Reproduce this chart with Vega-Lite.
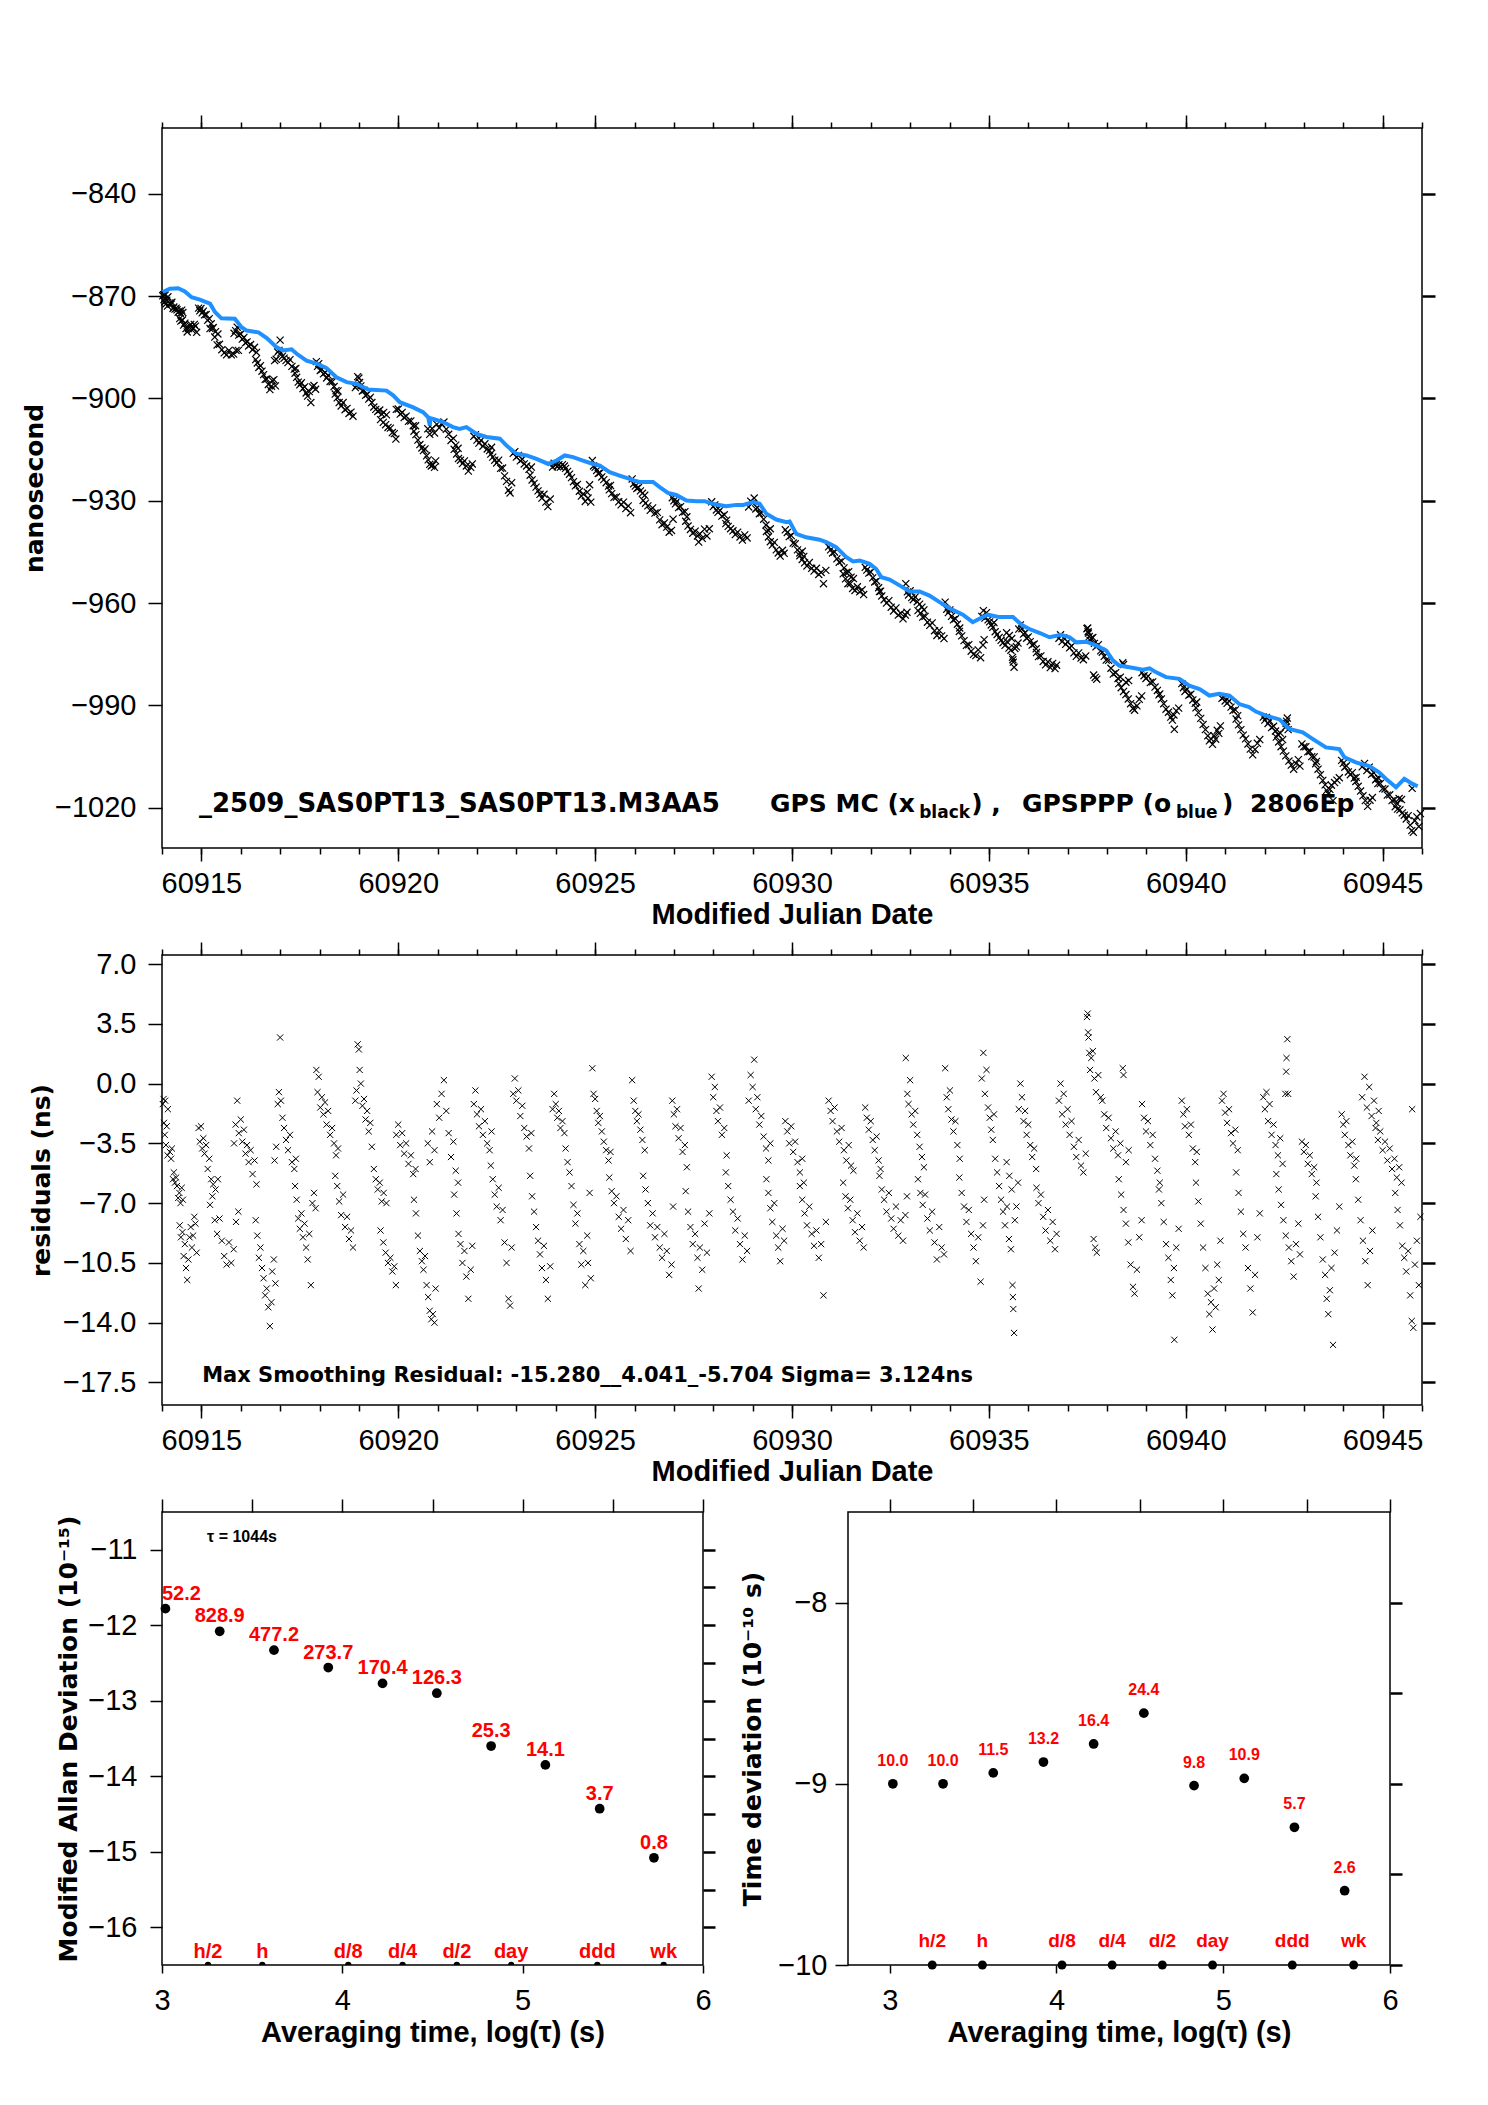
{
"$schema": "https://vega.github.io/schema/vega-lite/v6.json",
"background": "white",
"padding": {"top": 113, "left": 21, "right": 10, "bottom": 10},
"config": {
  "view": {"stroke": "black", "strokeWidth": 1.5},
  "axis": {"grid": false, "domain": false, "labelFont": "Liberation Sans", "labelFontSize": 29, "labelColor": "black", "labelFlush": false, "labelOverlap": false, "tickColor": "black", "tickWidth": 1.5, "titleFont": "Liberation Sans", "titleFontSize": 29, "titleFontWeight": "bold", "titleColor": "black"}
},
"datasets": {
"mc": [
{"t":60914.02,"r":-1.2,"y":-869.9},{"t":60914.04,"r":-0.9,"y":-869.6},{"t":60914.05,"r":-2.3,"y":-871.0},{"t":60914.07,"r":-3.0,"y":-871.7},{"t":60914.08,"r":-1.0,"y":-869.7},{"t":60914.10,"r":-3.6,"y":-872.3},{"t":60914.12,"r":-2.5,"y":-871.2},{"t":60914.14,"r":-4.2,"y":-872.9},{"t":60914.15,"r":-1.5,"y":-870.2},
{"t":60914.20,"r":-4.0,"y":-872.0},{"t":60914.23,"r":-4.4,"y":-872.4},{"t":60914.25,"r":-3.8,"y":-871.8},{"t":60914.28,"r":-5.6,"y":-873.6},{"t":60914.30,"r":-5.2,"y":-873.2},{"t":60914.33,"r":-5.8,"y":-873.8},{"t":60914.36,"r":-5.5,"y":-873.5},
{"t":60914.38,"r":-6.0,"y":-874.0},{"t":60914.41,"r":-6.7,"y":-874.7},{"t":60914.44,"r":-6.4,"y":-874.4},{"t":60914.47,"r":-7.0,"y":-875.0},{"t":60914.50,"r":-6.1,"y":-874.1},{"t":60914.53,"r":-6.8,"y":-874.8},
{"t":60914.45,"r":-8.3,"y":-876.6},{"t":60914.48,"r":-9.0,"y":-877.3},{"t":60914.52,"r":-8.7,"y":-877.0},{"t":60914.55,"r":-10.1,"y":-878.5},{"t":60914.58,"r":-9.4,"y":-877.9},{"t":60914.61,"r":-10.8,"y":-879.5},{"t":60914.64,"r":-11.5,"y":-880.5},{"t":60914.67,"r":-10.3,"y":-879.5},{"t":60914.70,"r":-9.0,"y":-878.6},{"t":60914.73,"r":-8.4,"y":-878.3},{"t":60914.76,"r":-9.6,"y":-879.9},{"t":60914.79,"r":-8.9,"y":-879.3},{"t":60914.82,"r":-7.8,"y":-878.3},{"t":60914.85,"r":-8.2,"y":-878.8},{"t":60914.88,"r":-9.9,"y":-880.6},
{"t":60914.93,"r":-2.6,"y":-873.5},{"t":60914.96,"r":-3.4,"y":-874.3},{"t":60914.99,"r":-2.5,"y":-873.6},{"t":60915.02,"r":-3.8,"y":-874.9},{"t":60915.05,"r":-3.2,"y":-874.4},{"t":60915.08,"r":-4.1,"y":-875.5},{"t":60915.12,"r":-3.6,"y":-875.4},{"t":60915.16,"r":-5.0,"y":-877.1},{"t":60915.20,"r":-4.4,"y":-876.6},{"t":60915.25,"r":-5.6,"y":-878.1},{"t":60915.30,"r":-5.9,"y":-879.2},{"t":60915.36,"r":-6.2,"y":-880.4},{"t":60915.42,"r":-5.6,"y":-881.1},
{"t":60915.22,"r":-7.1,"y":-879.5},{"t":60915.28,"r":-6.6,"y":-879.5},{"t":60915.34,"r":-8.0,"y":-882.0},{"t":60915.40,"r":-8.8,"y":-884.3},{"t":60915.46,"r":-7.9,"y":-884.1},{"t":60915.52,"r":-9.2,"y":-885.7},{"t":60915.58,"r":-10.1,"y":-886.6},{"t":60915.64,"r":-10.6,"y":-887.2},{"t":60915.70,"r":-9.3,"y":-885.9},{"t":60915.76,"r":-10.5,"y":-887.2},{"t":60915.82,"r":-9.7,"y":-887.0},{"t":60915.88,"r":-8.1,"y":-885.9},{"t":60915.94,"r":-7.5,"y":-885.9},
{"t":60915.83,"r":-3.5,"y":-880.9},{"t":60915.87,"r":-2.4,"y":-880.1},{"t":60915.91,"r":-1.0,"y":-879.1},{"t":60915.95,"r":-2.9,"y":-881.4},{"t":60916.00,"r":-2.1,"y":-881.1},{"t":60916.04,"r":-3.4,"y":-882.6},{"t":60916.08,"r":-2.7,"y":-882.1},{"t":60916.12,"r":-4.1,"y":-883.7},{"t":60916.16,"r":-3.6,"y":-883.4},{"t":60916.20,"r":-4.6,"y":-884.6},{"t":60916.25,"r":-3.9,"y":-884.2},{"t":60916.30,"r":-5.3,"y":-885.7},{"t":60916.35,"r":-4.5,"y":-885.0},{"t":60916.40,"r":-5.9,"y":-886.5},
{"t":60916.38,"r":-8.0,"y":-888.6},{"t":60916.42,"r":-8.9,"y":-889.6},{"t":60916.46,"r":-10.2,"y":-890.9},{"t":60916.50,"r":-9.6,"y":-890.4},{"t":60916.54,"r":-10.8,"y":-892.0},{"t":60916.58,"r":-11.4,"y":-893.0},{"t":60916.62,"r":-12.4,"y":-894.4},{"t":60916.66,"r":-12.0,"y":-894.3},{"t":60916.70,"r":-13.1,"y":-895.9},{"t":60916.74,"r":-14.2,"y":-897.4},{"t":60916.78,"r":-12.8,"y":-896.4},{"t":60916.80,"r":-11.0,"y":-894.8},{"t":60916.84,"r":-10.3,"y":-894.5},{"t":60916.88,"r":-11.7,"y":-896.3},
{"t":60916.86,"r":-4.5,"y":-888.9},{"t":60916.90,"r":-3.7,"y":-888.5},{"t":60916.94,"r":-1.2,"y":-886.4},{"t":60916.97,"r":-0.5,"y":-885.9},{"t":60917.00,"r":2.7,"y":-882.9},{"t":60917.02,"r":-1.0,"y":-886.6},{"t":60917.06,"r":-2.0,"y":-887.6},{"t":60917.10,"r":-2.6,"y":-888.2},{"t":60917.15,"r":-3.3,"y":-888.9},{"t":60917.20,"r":-3.9,"y":-889.5},{"t":60917.25,"r":-3.0,"y":-888.6},{"t":60917.30,"r":-4.6,"y":-890.6},{"t":60917.36,"r":-5.0,"y":-891.4},{"t":60917.40,"r":-4.4,"y":-891.2},
{"t":60917.38,"r":-6.0,"y":-892.6},{"t":60917.42,"r":-6.8,"y":-893.8},{"t":60917.46,"r":-7.9,"y":-895.2},{"t":60917.50,"r":-8.5,"y":-896.0},{"t":60917.54,"r":-7.6,"y":-895.4},{"t":60917.58,"r":-9.0,"y":-897.1},{"t":60917.62,"r":-8.2,"y":-896.6},{"t":60917.66,"r":-9.6,"y":-898.4},{"t":60917.70,"r":-10.3,"y":-899.3},{"t":60917.74,"r":-8.8,"y":-898.0},{"t":60917.78,"r":-11.8,"y":-901.2},{"t":60917.82,"r":-7.0,"y":-896.6},{"t":60917.86,"r":-6.4,"y":-896.2},{"t":60917.90,"r":-7.3,"y":-897.3},
{"t":60917.92,"r":0.8,"y":-889.2},{"t":60917.95,"r":-0.5,"y":-890.6},{"t":60917.98,"r":0.4,"y":-889.8},{"t":60918.02,"r":-1.4,"y":-891.8},{"t":60918.06,"r":-0.8,"y":-891.5},{"t":60918.10,"r":-1.8,"y":-892.8},{"t":60918.14,"r":-1.1,"y":-892.4},{"t":60918.18,"r":-2.4,"y":-894.0},{"t":60918.22,"r":-1.6,"y":-893.2},{"t":60918.27,"r":-3.0,"y":-895.0},{"t":60918.32,"r":-2.6,"y":-895.1},{"t":60918.37,"r":-3.5,"y":-896.5},{"t":60918.42,"r":-4.2,"y":-897.7},{"t":60918.47,"r":-3.8,"y":-897.8},
{"t":60918.40,"r":-5.4,"y":-898.7},{"t":60918.45,"r":-6.0,"y":-899.8},{"t":60918.50,"r":-6.9,"y":-901.2},{"t":60918.55,"r":-7.7,"y":-902.2},{"t":60918.60,"r":-6.5,"y":-901.2},{"t":60918.65,"r":-8.4,"y":-903.3},{"t":60918.70,"r":-7.8,"y":-902.9},{"t":60918.75,"r":-9.1,"y":-904.4},{"t":60918.80,"r":-8.6,"y":-904.0},{"t":60918.85,"r":-9.6,"y":-905.2},
{"t":60918.91,"r":-1.0,"y":-896.8},{"t":60918.94,"r":-0.4,"y":-896.3},{"t":60918.97,"r":2.3,"y":-893.6},{"t":60919.00,"r":2.0,"y":-894.0},{"t":60919.02,"r":0.8,"y":-895.3},{"t":60919.05,"r":0.0,"y":-896.3},{"t":60919.09,"r":-1.3,"y":-897.8},{"t":60919.13,"r":-0.9,"y":-897.6},{"t":60919.17,"r":-2.1,"y":-899.1},{"t":60919.21,"r":-1.6,"y":-898.8},{"t":60919.25,"r":-2.8,"y":-900.2},{"t":60919.29,"r":-2.3,"y":-899.7},{"t":60919.33,"r":-3.7,"y":-901.2},
{"t":60919.38,"r":-5.0,"y":-902.5},{"t":60919.43,"r":-5.6,"y":-903.2},{"t":60919.48,"r":-6.2,"y":-903.8},{"t":60919.53,"r":-5.8,"y":-903.4},{"t":60919.58,"r":-6.9,"y":-904.6},{"t":60919.63,"r":-6.4,"y":-904.1},{"t":60919.70,"r":-7.0,"y":-904.8},
{"t":60919.55,"r":-8.6,"y":-906.2},{"t":60919.62,"r":-9.3,"y":-907.0},{"t":60919.68,"r":-9.9,"y":-907.7},{"t":60919.74,"r":-10.5,"y":-908.5},{"t":60919.80,"r":-10.2,"y":-908.7},{"t":60919.85,"r":-11.0,"y":-910.0},{"t":60919.90,"r":-10.7,"y":-910.3},{"t":60919.94,"r":-11.8,"y":-911.9},
{"t":60919.95,"r":-3.0,"y":-903.2},{"t":60920.00,"r":-2.4,"y":-903.1},{"t":60920.05,"r":-3.6,"y":-904.6},{"t":60920.10,"r":-2.9,"y":-904.1},{"t":60920.15,"r":-4.1,"y":-905.6},{"t":60920.20,"r":-3.5,"y":-905.2},{"t":60920.26,"r":-4.7,"y":-906.7},{"t":60920.32,"r":-4.2,"y":-906.6},{"t":60920.38,"r":-5.3,"y":-908.0},{"t":60920.44,"r":-5.0,"y":-908.0},
{"t":60920.40,"r":-6.8,"y":-909.6},{"t":60920.45,"r":-7.6,"y":-910.6},{"t":60920.50,"r":-8.9,"y":-912.2},{"t":60920.55,"r":-9.8,"y":-913.5},{"t":60920.60,"r":-10.4,"y":-914.5},{"t":60920.64,"r":-10.9,"y":-915.3},{"t":60920.68,"r":-10.1,"y":-914.8},{"t":60920.72,"r":-11.8,"y":-916.8},{"t":60920.76,"r":-12.5,"y":-918.0},{"t":60920.80,"r":-13.3,"y":-919.3},{"t":60920.84,"r":-13.8,"y":-919.8},{"t":60920.88,"r":-13.5,"y":-919.5},{"t":60920.92,"r":-14.0,"y":-920.2},{"t":60920.95,"r":-12.0,"y":-918.3},
{"t":60920.75,"r":-3.5,"y":-908.9},{"t":60920.80,"r":-4.6,"y":-910.5},{"t":60920.86,"r":-2.8,"y":-908.8},{"t":60920.92,"r":-3.9,"y":-910.1},{"t":60920.98,"r":-1.2,"y":-907.6},{"t":60921.04,"r":-2.0,"y":-908.6},{"t":60921.10,"r":-0.6,"y":-907.4},{"t":60921.16,"r":0.2,"y":-906.9},{"t":60921.22,"r":-1.6,"y":-909.0},{"t":60921.28,"r":-2.9,"y":-910.5},{"t":60921.34,"r":-4.3,"y":-912.3},{"t":60921.40,"r":-3.4,"y":-911.7},{"t":60921.46,"r":-5.1,"y":-913.7},{"t":60921.52,"r":-5.8,"y":-914.6},
{"t":60921.42,"r":-6.5,"y":-914.9},{"t":60921.48,"r":-7.6,"y":-916.3},{"t":60921.53,"r":-8.8,"y":-917.6},{"t":60921.58,"r":-9.4,"y":-918.1},{"t":60921.63,"r":-10.5,"y":-919.1},{"t":60921.68,"r":-9.8,"y":-918.3},{"t":60921.73,"r":-11.3,"y":-919.8},{"t":60921.78,"r":-12.6,"y":-921.3},{"t":60921.84,"r":-10.9,"y":-920.2},{"t":60921.88,"r":-9.5,"y":-919.2},
{"t":60921.92,"r":-1.2,"y":-911.1},{"t":60921.96,"r":-0.4,"y":-910.6},{"t":60922.00,"r":-1.8,"y":-912.2},{"t":60922.05,"r":-2.5,"y":-913.1},{"t":60922.10,"r":-1.5,"y":-912.3},{"t":60922.15,"r":-3.0,"y":-914.0},{"t":60922.20,"r":-2.2,"y":-913.3},{"t":60922.26,"r":-3.5,"y":-914.8},{"t":60922.32,"r":-3.9,"y":-915.3},{"t":60922.37,"r":-2.8,"y":-914.3},
{"t":60922.35,"r":-4.8,"y":-916.3},{"t":60922.40,"r":-5.6,"y":-917.2},{"t":60922.45,"r":-6.5,"y":-918.1},{"t":60922.50,"r":-7.2,"y":-918.9},{"t":60922.55,"r":-6.1,"y":-918.1},{"t":60922.60,"r":-8.0,"y":-920.5},{"t":60922.65,"r":-7.4,"y":-920.4},{"t":60922.70,"r":-9.3,"y":-922.7},{"t":60922.75,"r":-10.5,"y":-924.3},{"t":60922.80,"r":-12.6,"y":-926.9},{"t":60922.84,"r":-13.0,"y":-927.7},{"t":60922.88,"r":-9.6,"y":-924.7},
{"t":60922.92,"r":-0.6,"y":-916.1},{"t":60922.96,"r":0.3,"y":-915.6},{"t":60923.00,"r":-1.0,"y":-917.2},{"t":60923.05,"r":-0.4,"y":-916.7},{"t":60923.10,"r":-1.9,"y":-918.3},{"t":60923.15,"r":-1.3,"y":-917.8},{"t":60923.20,"r":-2.6,"y":-919.2},{"t":60923.26,"r":-3.1,"y":-919.8},{"t":60923.32,"r":-3.8,"y":-920.8},{"t":60923.38,"r":-2.9,"y":-920.1},
{"t":60923.35,"r":-5.4,"y":-922.5},{"t":60923.40,"r":-6.6,"y":-923.9},{"t":60923.45,"r":-7.5,"y":-924.9},{"t":60923.50,"r":-8.4,"y":-926.0},{"t":60923.55,"r":-9.2,"y":-927.1},{"t":60923.60,"r":-10.0,"y":-928.1},{"t":60923.65,"r":-10.8,"y":-929.2},{"t":60923.70,"r":-9.5,"y":-928.1},{"t":60923.75,"r":-11.5,"y":-930.4},{"t":60923.80,"r":-12.6,"y":-931.7},{"t":60923.86,"r":-10.7,"y":-929.5},
{"t":60923.92,"r":-1.5,"y":-920.1},{"t":60923.96,"r":-0.6,"y":-919.0},{"t":60924.00,"r":-1.2,"y":-919.5},{"t":60924.04,"r":-2.0,"y":-920.0},{"t":60924.08,"r":-1.6,"y":-919.4},{"t":60924.12,"r":-2.6,"y":-920.1},{"t":60924.17,"r":-2.2,"y":-919.4},{"t":60924.22,"r":-2.9,"y":-919.8},
{"t":60924.25,"r":-3.8,"y":-920.5},{"t":60924.30,"r":-4.6,"y":-921.4},{"t":60924.35,"r":-5.2,"y":-922.2},{"t":60924.40,"r":-6.0,"y":-923.2},{"t":60924.45,"r":-7.1,"y":-924.4},{"t":60924.50,"r":-8.2,"y":-925.6},{"t":60924.55,"r":-7.6,"y":-925.2},{"t":60924.60,"r":-9.4,"y":-927.2},{"t":60924.65,"r":-10.6,"y":-928.6},{"t":60924.70,"r":-9.8,"y":-928.0},{"t":60924.75,"r":-11.8,"y":-930.2},{"t":60924.80,"r":-8.9,"y":-927.5},{"t":60924.82,"r":-10.5,"y":-929.2},{"t":60924.86,"r":-6.4,"y":-925.3},{"t":60924.89,"r":-11.4,"y":-930.4},
{"t":60924.93,"r":0.9,"y":-918.2},{"t":60924.96,"r":-0.6,"y":-919.8},{"t":60925.00,"r":-0.9,"y":-920.2},{"t":60925.04,"r":-1.6,"y":-921.1},{"t":60925.08,"r":-2.3,"y":-922.0},{"t":60925.12,"r":-1.9,"y":-921.8},{"t":60925.17,"r":-2.8,"y":-923.0},{"t":60925.22,"r":-3.4,"y":-923.8},{"t":60925.28,"r":-3.9,"y":-924.7},{"t":60925.34,"r":-4.5,"y":-925.7},{"t":60925.39,"r":-4.0,"y":-925.5},
{"t":60925.36,"r":-5.5,"y":-926.8},{"t":60925.42,"r":-6.3,"y":-927.9},{"t":60925.48,"r":-7.0,"y":-929.0},{"t":60925.54,"r":-6.6,"y":-928.9},{"t":60925.60,"r":-7.8,"y":-930.3},{"t":60925.66,"r":-8.5,"y":-931.2},{"t":60925.72,"r":-7.4,"y":-930.4},{"t":60925.78,"r":-9.1,"y":-932.3},{"t":60925.84,"r":-8.0,"y":-931.5},{"t":60925.90,"r":-9.8,"y":-933.5},
{"t":60925.94,"r":0.2,"y":-923.6},{"t":60925.98,"r":-1.0,"y":-925.0},{"t":60926.02,"r":-1.6,"y":-925.7},{"t":60926.06,"r":-2.2,"y":-926.4},{"t":60926.10,"r":-1.8,"y":-926.1},{"t":60926.15,"r":-2.7,"y":-927.1},{"t":60926.20,"r":-3.3,"y":-927.8},{"t":60926.26,"r":-3.9,"y":-928.4},
{"t":60926.22,"r":-5.4,"y":-929.9},{"t":60926.28,"r":-6.2,"y":-930.7},{"t":60926.34,"r":-7.0,"y":-931.5},{"t":60926.40,"r":-8.3,"y":-932.8},{"t":60926.46,"r":-7.6,"y":-932.1},{"t":60926.52,"r":-9.0,"y":-933.6},{"t":60926.58,"r":-8.4,"y":-933.4},{"t":60926.64,"r":-9.6,"y":-935.6},{"t":60926.70,"r":-10.2,"y":-937.0},{"t":60926.76,"r":-8.8,"y":-936.5},{"t":60926.82,"r":-9.8,"y":-937.7},{"t":60926.88,"r":-11.2,"y":-939.2},{"t":60926.94,"r":-10.6,"y":-938.7},{"t":60926.98,"r":-7.2,"y":-935.4},
{"t":60926.96,"r":-1.0,"y":-929.1},{"t":60927.00,"r":-1.8,"y":-930.0},{"t":60927.04,"r":-2.5,"y":-930.9},{"t":60927.08,"r":-1.5,"y":-930.1},{"t":60927.12,"r":-3.2,"y":-932.0},{"t":60927.17,"r":-2.6,"y":-931.7},{"t":60927.22,"r":-4.0,"y":-933.4},{"t":60927.28,"r":-3.6,"y":-933.2},{"t":60927.33,"r":-4.9,"y":-934.7},
{"t":60927.30,"r":-6.3,"y":-936.0},{"t":60927.36,"r":-7.5,"y":-937.4},{"t":60927.42,"r":-8.4,"y":-938.4},{"t":60927.48,"r":-9.4,"y":-939.5},{"t":60927.54,"r":-8.8,"y":-938.9},{"t":60927.60,"r":-10.2,"y":-940.3},{"t":60927.66,"r":-9.6,"y":-939.7},{"t":60927.72,"r":-10.9,"y":-941.0},{"t":60927.78,"r":-8.2,"y":-938.3},{"t":60927.84,"r":-9.9,"y":-940.3},{"t":60927.90,"r":-7.6,"y":-938.2},{"t":60927.63,"r":-12.0,"y":-942.1},
{"t":60927.96,"r":0.4,"y":-930.3},{"t":60928.00,"r":-0.8,"y":-931.7},{"t":60928.04,"r":-0.2,"y":-931.2},{"t":60928.08,"r":-1.6,"y":-932.7},{"t":60928.12,"r":-2.2,"y":-933.4},{"t":60928.17,"r":-1.4,"y":-932.8},{"t":60928.22,"r":-3.0,"y":-934.5},{"t":60928.28,"r":-2.6,"y":-934.1},{"t":60928.34,"r":-4.2,"y":-935.7},
{"t":60928.32,"r":-5.2,"y":-936.7},{"t":60928.38,"r":-6.0,"y":-937.5},{"t":60928.44,"r":-6.8,"y":-938.2},{"t":60928.50,"r":-7.5,"y":-938.8},{"t":60928.56,"r":-8.6,"y":-939.9},{"t":60928.62,"r":-7.9,"y":-939.2},{"t":60928.68,"r":-9.4,"y":-940.6},{"t":60928.74,"r":-10.3,"y":-941.5},{"t":60928.80,"r":-8.9,"y":-940.0},{"t":60928.86,"r":-9.8,"y":-940.9},
{"t":60928.90,"r":-1.0,"y":-931.8},{"t":60928.95,"r":0.5,"y":-930.1},{"t":60929.00,"r":-0.2,"y":-930.6},{"t":60929.04,"r":1.4,"y":-929.2},{"t":60929.08,"r":-1.5,"y":-932.4},{"t":60929.12,"r":-0.8,"y":-932.0},{"t":60929.17,"r":-2.4,"y":-933.8},{"t":60929.22,"r":-1.9,"y":-933.6},{"t":60929.28,"r":-3.1,"y":-935.4},{"t":60929.34,"r":-3.8,"y":-937.1},{"t":60929.40,"r":-4.5,"y":-938.7},{"t":60929.45,"r":-3.5,"y":-938.2},
{"t":60929.35,"r":-5.6,"y":-939.0},{"t":60929.40,"r":-6.4,"y":-940.6},{"t":60929.45,"r":-7.3,"y":-942.0},{"t":60929.50,"r":-8.1,"y":-943.0},{"t":60929.55,"r":-7.0,"y":-942.2},{"t":60929.60,"r":-8.9,"y":-944.4},{"t":60929.65,"r":-9.6,"y":-945.3},{"t":60929.70,"r":-10.4,"y":-946.2},{"t":60929.76,"r":-8.5,"y":-944.5},{"t":60929.80,"r":-9.2,"y":-945.4},
{"t":60929.83,"r":-2.2,"y":-938.5},{"t":60929.88,"r":-2.8,"y":-939.3},{"t":60929.93,"r":-3.5,"y":-940.5},{"t":60929.98,"r":-2.5,"y":-940.2},{"t":60930.03,"r":-4.0,"y":-942.4},{"t":60930.08,"r":-3.4,"y":-942.6},{"t":60930.14,"r":-4.6,"y":-944.4},{"t":60930.20,"r":-5.2,"y":-945.3},{"t":60930.26,"r":-4.4,"y":-944.8},{"t":60930.30,"r":-5.8,"y":-946.3},
{"t":60930.20,"r":-6.0,"y":-946.1},{"t":60930.26,"r":-6.8,"y":-947.2},{"t":60930.32,"r":-7.6,"y":-948.2},{"t":60930.38,"r":-8.3,"y":-949.1},{"t":60930.44,"r":-7.2,"y":-948.1},{"t":60930.50,"r":-8.8,"y":-949.8},{"t":60930.56,"r":-9.5,"y":-950.6},{"t":60930.62,"r":-8.6,"y":-949.8},{"t":60930.68,"r":-10.2,"y":-951.6},{"t":60930.74,"r":-9.4,"y":-951.0},{"t":60930.80,"r":-12.4,"y":-954.3},{"t":60930.86,"r":-8.1,"y":-950.4},
{"t":60930.93,"r":-1.0,"y":-943.5},{"t":60930.98,"r":-1.6,"y":-944.4},{"t":60931.03,"r":-2.2,"y":-945.3},{"t":60931.08,"r":-1.4,"y":-945.0},{"t":60931.14,"r":-2.8,"y":-947.0},{"t":60931.20,"r":-3.4,"y":-948.0},{"t":60931.26,"r":-2.6,"y":-947.7},{"t":60931.32,"r":-3.9,"y":-949.7},{"t":60931.38,"r":-4.5,"y":-951.0},{"t":60931.44,"r":-3.6,"y":-950.8},{"t":60931.50,"r":-4.8,"y":-952.4},{"t":60931.56,"r":-5.1,"y":-952.8},
{"t":60931.30,"r":-5.8,"y":-951.4},{"t":60931.36,"r":-6.6,"y":-952.9},{"t":60931.42,"r":-7.3,"y":-954.3},{"t":60931.48,"r":-6.8,"y":-954.3},{"t":60931.54,"r":-8.0,"y":-955.7},{"t":60931.60,"r":-8.7,"y":-956.3},{"t":60931.66,"r":-7.6,"y":-955.2},{"t":60931.72,"r":-9.2,"y":-956.7},{"t":60931.78,"r":-8.4,"y":-956.1},{"t":60931.82,"r":-9.6,"y":-957.5},
{"t":60931.86,"r":-1.4,"y":-949.5},{"t":60931.90,"r":-2.0,"y":-950.3},{"t":60931.95,"r":-2.7,"y":-951.2},{"t":60932.00,"r":-2.2,"y":-950.9},{"t":60932.05,"r":-3.3,"y":-952.6},{"t":60932.10,"r":-3.9,"y":-953.8},{"t":60932.15,"r":-3.1,"y":-953.5},{"t":60932.20,"r":-4.5,"y":-955.5},{"t":60932.25,"r":-5.0,"y":-956.5},
{"t":60932.22,"r":-5.4,"y":-956.6},{"t":60932.28,"r":-6.2,"y":-957.9},{"t":60932.34,"r":-6.8,"y":-959.0},{"t":60932.40,"r":-7.5,"y":-960.0},{"t":60932.46,"r":-6.4,"y":-959.3},{"t":60932.52,"r":-7.9,"y":-961.2},{"t":60932.58,"r":-8.5,"y":-962.3},{"t":60932.64,"r":-7.2,"y":-961.4},{"t":60932.70,"r":-8.9,"y":-963.5},{"t":60932.76,"r":-8.0,"y":-963.0},{"t":60932.82,"r":-9.2,"y":-964.6},{"t":60932.88,"r":-7.7,"y":-963.5},{"t":60932.92,"r":-6.6,"y":-962.7},
{"t":60932.89,"r":1.5,"y":-954.3},{"t":60932.93,"r":-0.6,"y":-956.7},{"t":60932.96,"r":-1.2,"y":-957.6},{"t":60933.00,"r":0.2,"y":-956.4},{"t":60933.04,"r":-1.8,"y":-958.4},{"t":60933.08,"r":-2.4,"y":-959.0},{"t":60933.13,"r":-1.6,"y":-958.2},{"t":60933.18,"r":-3.0,"y":-959.6},{"t":60933.24,"r":-3.7,"y":-960.3},{"t":60933.30,"r":-4.3,"y":-961.2},{"t":60933.35,"r":-4.9,"y":-962.0},
{"t":60933.20,"r":-5.6,"y":-962.2},{"t":60933.26,"r":-6.4,"y":-963.0},{"t":60933.32,"r":-7.1,"y":-964.1},{"t":60933.38,"r":-6.5,"y":-963.9},{"t":60933.44,"r":-7.9,"y":-965.6},{"t":60933.50,"r":-8.6,"y":-966.5},{"t":60933.56,"r":-7.5,"y":-965.8},{"t":60933.62,"r":-9.3,"y":-968.1},{"t":60933.68,"r":-10.3,"y":-969.5},{"t":60933.74,"r":-8.4,"y":-968.0},{"t":60933.80,"r":-9.6,"y":-969.6},{"t":60933.86,"r":-10.0,"y":-970.4},
{"t":60933.89,"r":0.9,"y":-959.7},{"t":60933.93,"r":-0.8,"y":-961.8},{"t":60933.97,"r":-1.5,"y":-962.8},{"t":60934.01,"r":-0.4,"y":-962.0},{"t":60934.05,"r":-2.1,"y":-963.9},{"t":60934.10,"r":-2.8,"y":-964.9},{"t":60934.15,"r":-2.2,"y":-964.6},{"t":60934.20,"r":-3.6,"y":-966.2},{"t":60934.26,"r":-4.4,"y":-967.3},
{"t":60934.25,"r":-5.5,"y":-968.3},{"t":60934.31,"r":-6.4,"y":-969.6},{"t":60934.37,"r":-7.2,"y":-971.0},{"t":60934.43,"r":-8.1,"y":-972.4},{"t":60934.49,"r":-7.4,"y":-972.2},{"t":60934.55,"r":-8.8,"y":-974.1},{"t":60934.61,"r":-9.6,"y":-975.0},{"t":60934.67,"r":-10.4,"y":-975.4},{"t":60934.73,"r":-9.0,"y":-973.7},{"t":60934.79,"r":-11.6,"y":-976.0},{"t":60934.85,"r":-8.3,"y":-972.3},{"t":60934.88,"r":-6.8,"y":-970.7},
{"t":60934.82,"r":0.3,"y":-963.9},{"t":60934.86,"r":1.8,"y":-962.2},{"t":60934.90,"r":-0.6,"y":-964.4},{"t":60934.94,"r":0.8,"y":-962.8},{"t":60934.98,"r":-1.4,"y":-964.9},{"t":60935.02,"r":-2.0,"y":-965.5},{"t":60935.06,"r":-2.7,"y":-966.4},{"t":60935.10,"r":-3.3,"y":-967.1},{"t":60935.13,"r":-1.8,"y":-965.7},
{"t":60935.16,"r":-4.4,"y":-968.4},{"t":60935.21,"r":-5.2,"y":-969.2},{"t":60935.26,"r":-6.0,"y":-970.1},{"t":60935.31,"r":-6.8,"y":-970.9},{"t":60935.36,"r":-7.5,"y":-971.6},{"t":60935.41,"r":-8.3,"y":-972.4},{"t":60935.46,"r":-7.2,"y":-971.3},{"t":60935.51,"r":-9.1,"y":-973.2},{"t":60935.56,"r":-9.7,"y":-973.8},{"t":60935.60,"r":-11.8,"y":-975.9},{"t":60935.62,"r":-13.2,"y":-977.3},{"t":60935.64,"r":-14.6,"y":-978.8},{"t":60935.61,"r":-12.5,"y":-976.6},
{"t":60935.45,"r":-4.6,"y":-968.7},{"t":60935.52,"r":-5.4,"y":-969.5},{"t":60935.58,"r":-6.2,"y":-970.4},{"t":60935.66,"r":-8.0,"y":-973.3},{"t":60935.70,"r":-7.2,"y":-972.8},{"t":60935.74,"r":-5.8,"y":-971.7},
{"t":60935.76,"r":-1.5,"y":-967.6},{"t":60935.80,"r":0.0,"y":-966.4},{"t":60935.84,"r":-0.8,"y":-967.5},{"t":60935.88,"r":-2.2,"y":-969.1},{"t":60935.92,"r":-1.6,"y":-968.7},{"t":60935.96,"r":-3.0,"y":-970.3},{"t":60936.00,"r":-2.4,"y":-969.9},{"t":60936.05,"r":-3.6,"y":-971.3},{"t":60936.10,"r":-4.3,"y":-972.3},{"t":60936.15,"r":-3.8,"y":-972.0},{"t":60936.20,"r":-5.0,"y":-973.4},
{"t":60936.21,"r":-6.1,"y":-974.5},{"t":60936.26,"r":-7.0,"y":-975.7},{"t":60936.32,"r":-6.5,"y":-975.5},{"t":60936.38,"r":-7.8,"y":-977.1},{"t":60936.44,"r":-8.6,"y":-978.1},{"t":60936.50,"r":-7.4,"y":-977.2},{"t":60936.56,"r":-9.2,"y":-978.9},{"t":60936.62,"r":-8.1,"y":-977.7},{"t":60936.68,"r":-9.7,"y":-979.2},{"t":60936.72,"r":-8.8,"y":-978.2},
{"t":60936.78,"r":-1.0,"y":-970.3},{"t":60936.82,"r":0.0,"y":-969.3},{"t":60936.86,"r":-1.8,"y":-971.3},{"t":60936.90,"r":-0.6,"y":-970.2},{"t":60936.95,"r":-2.4,"y":-972.1},{"t":60937.00,"r":-1.5,"y":-971.3},{"t":60937.05,"r":-3.0,"y":-973.1},{"t":60937.10,"r":-2.2,"y":-972.6},{"t":60937.16,"r":-3.7,"y":-974.6},{"t":60937.22,"r":-4.3,"y":-975.6},{"t":60937.28,"r":-3.3,"y":-974.6},{"t":60937.34,"r":-4.8,"y":-976.1},{"t":60937.40,"r":-5.2,"y":-976.6},{"t":60937.46,"r":-4.1,"y":-975.5},
{"t":60937.49,"r":3.9,"y":-967.5},{"t":60937.51,"r":4.1,"y":-967.3},{"t":60937.52,"r":3.0,"y":-968.4},{"t":60937.53,"r":2.7,"y":-968.8},{"t":60937.55,"r":1.8,"y":-969.8},{"t":60937.57,"r":0.8,"y":-970.9},{"t":60937.60,"r":1.5,"y":-970.3},{"t":60937.64,"r":1.9,"y":-970.1},{"t":60937.68,"r":0.3,"y":-971.8},{"t":60937.72,"r":-0.5,"y":-972.8},{"t":60937.78,"r":0.5,"y":-972.2},{"t":60937.84,"r":-0.8,"y":-974.0},
{"t":60937.66,"r":-9.1,"y":-981.1},{"t":60937.70,"r":-9.6,"y":-981.8},{"t":60937.74,"r":-9.9,"y":-982.3},
{"t":60937.88,"r":-1.0,"y":-974.4},{"t":60937.93,"r":-1.8,"y":-975.6},{"t":60937.98,"r":-2.6,"y":-976.7},{"t":60938.04,"r":-2.0,"y":-976.8},{"t":60938.10,"r":-3.2,"y":-979.1},{"t":60938.16,"r":-3.8,"y":-980.8},{"t":60938.22,"r":-2.8,"y":-980.4},{"t":60938.28,"r":-4.2,"y":-982.1},{"t":60938.34,"r":-3.5,"y":-981.7},{"t":60938.40,"r":0.9,"y":-977.5},{"t":60938.42,"r":0.5,"y":-978.0},{"t":60938.48,"r":-4.6,"y":-983.2},{"t":60938.55,"r":-3.9,"y":-982.7},
{"t":60938.30,"r":-5.6,"y":-983.6},{"t":60938.36,"r":-6.5,"y":-984.8},{"t":60938.42,"r":-7.4,"y":-985.9},{"t":60938.48,"r":-8.2,"y":-986.8},{"t":60938.54,"r":-9.3,"y":-988.1},{"t":60938.60,"r":-10.6,"y":-989.5},{"t":60938.66,"r":-11.9,"y":-990.9},{"t":60938.70,"r":-12.3,"y":-991.4},{"t":60938.76,"r":-10.9,"y":-990.1},{"t":60938.82,"r":-9.0,"y":-988.2},{"t":60938.88,"r":-8.0,"y":-987.2},
{"t":60938.89,"r":-1.2,"y":-980.4},{"t":60938.94,"r":-2.0,"y":-981.3},{"t":60938.99,"r":-2.8,"y":-982.1},{"t":60939.04,"r":-2.2,"y":-981.4},{"t":60939.10,"r":-3.6,"y":-983.3},{"t":60939.16,"r":-3.0,"y":-983.1},{"t":60939.22,"r":-4.4,"y":-984.6},{"t":60939.28,"r":-5.1,"y":-985.6},{"t":60939.34,"r":-5.8,"y":-986.6},
{"t":60939.32,"r":-6.2,"y":-986.9},{"t":60939.38,"r":-7.0,"y":-988.1},{"t":60939.44,"r":-8.1,"y":-989.5},{"t":60939.50,"r":-9.4,"y":-991.1},{"t":60939.56,"r":-10.2,"y":-992.0},{"t":60939.62,"r":-11.5,"y":-993.4},{"t":60939.66,"r":-12.4,"y":-994.3},{"t":60939.70,"r":-10.8,"y":-992.8},{"t":60939.71,"r":-15.0,"y":-997.0},{"t":60939.76,"r":-9.6,"y":-991.6},{"t":60939.82,"r":-8.5,"y":-990.8},
{"t":60939.90,"r":-1.0,"y":-983.6},{"t":60939.94,"r":-1.8,"y":-984.8},{"t":60939.98,"r":-2.5,"y":-985.9},{"t":60940.03,"r":-1.5,"y":-985.2},{"t":60940.08,"r":-3.0,"y":-987.0},{"t":60940.13,"r":-2.4,"y":-986.7},{"t":60940.18,"r":-3.8,"y":-988.4},{"t":60940.24,"r":-4.6,"y":-989.4},{"t":60940.28,"r":-4.0,"y":-989.0},
{"t":60940.26,"r":-5.8,"y":-990.7},{"t":60940.32,"r":-6.9,"y":-992.1},{"t":60940.38,"r":-8.2,"y":-993.8},{"t":60940.44,"r":-9.6,"y":-995.6},{"t":60940.50,"r":-10.8,"y":-997.1},{"t":60940.56,"r":-12.3,"y":-998.9},{"t":60940.60,"r":-13.5,"y":-1000.4},{"t":60940.64,"r":-12.8,"y":-999.8},{"t":60940.68,"r":-14.4,"y":-1001.4},{"t":60940.72,"r":-12.0,"y":-998.9},{"t":60940.76,"r":-13.1,"y":-999.9},{"t":60940.80,"r":-10.6,"y":-997.3},{"t":60940.84,"r":-11.5,"y":-998.2},{"t":60940.88,"r":-9.2,"y":-996.0},
{"t":60940.92,"r":-1.0,"y":-987.9},{"t":60940.96,"r":-0.6,"y":-987.6},{"t":60941.00,"r":-1.7,"y":-988.7},{"t":60941.05,"r":-2.3,"y":-989.4},{"t":60941.10,"r":-1.5,"y":-988.7},{"t":60941.15,"r":-2.9,"y":-990.5},{"t":60941.20,"r":-3.5,"y":-991.5},{"t":60941.26,"r":-2.7,"y":-991.3},{"t":60941.32,"r":-3.9,"y":-993.0},
{"t":60941.28,"r":-5.2,"y":-994.0},{"t":60941.34,"r":-6.4,"y":-995.7},{"t":60941.40,"r":-7.5,"y":-997.1},{"t":60941.46,"r":-8.8,"y":-998.7},{"t":60941.52,"r":-9.6,"y":-999.8},{"t":60941.58,"r":-10.8,"y":-1001.3},{"t":60941.64,"r":-12.0,"y":-1002.8},{"t":60941.70,"r":-13.4,"y":-1004.5},{"t":60941.76,"r":-11.2,"y":-1002.9},{"t":60941.82,"r":-9.0,"y":-1001.1},{"t":60941.88,"r":-7.6,"y":-1000.0},
{"t":60941.97,"r":-0.8,"y":-993.4},{"t":60942.01,"r":-1.5,"y":-994.3},{"t":60942.05,"r":-0.5,"y":-993.5},{"t":60942.09,"r":-2.2,"y":-995.3},{"t":60942.13,"r":-1.2,"y":-994.5},{"t":60942.18,"r":-3.0,"y":-996.5},{"t":60942.23,"r":-2.4,"y":-996.1},{"t":60942.28,"r":-3.6,"y":-997.5},{"t":60942.34,"r":-4.2,"y":-998.5},{"t":60942.40,"r":-3.2,"y":-998.1},{"t":60942.46,"r":-4.7,"y":-1000.0},{"t":60942.53,"r":-0.6,"y":-996.4},{"t":60942.55,"r":0.7,"y":-995.3},{"t":60942.56,"r":1.5,"y":-994.6},{"t":60942.58,"r":2.6,"y":-993.7},{"t":60942.60,"r":-0.6,"y":-997.1},
{"t":60942.30,"r":-5.3,"y":-999.3},{"t":60942.36,"r":-6.2,"y":-1000.7},{"t":60942.42,"r":-7.1,"y":-1002.1},{"t":60942.48,"r":-8.0,"y":-1003.4},{"t":60942.54,"r":-8.9,"y":-1004.8},{"t":60942.62,"r":-9.6,"y":-1006.3},{"t":60942.68,"r":-10.4,"y":-1007.5},{"t":60942.74,"r":-11.3,"y":-1008.7},{"t":60942.80,"r":-9.4,"y":-1007.0},{"t":60942.86,"r":-8.2,"y":-1005.9},{"t":60942.90,"r":-10.0,"y":-1007.8},
{"t":60942.95,"r":-3.4,"y":-1001.3},{"t":60943.00,"r":-4.0,"y":-1002.1},{"t":60943.05,"r":-3.6,"y":-1002.1},{"t":60943.10,"r":-4.7,"y":-1003.6},{"t":60943.15,"r":-4.2,"y":-1003.5},{"t":60943.20,"r":-5.3,"y":-1005.0},{"t":60943.26,"r":-4.9,"y":-1005.1},{"t":60943.32,"r":-5.8,"y":-1006.4},
{"t":60943.30,"r":-6.6,"y":-1007.1},{"t":60943.36,"r":-7.8,"y":-1008.7},{"t":60943.42,"r":-9.0,"y":-1010.3},{"t":60943.48,"r":-10.3,"y":-1012.0},{"t":60943.54,"r":-11.2,"y":-1013.3},{"t":60943.58,"r":-12.6,"y":-1014.9},{"t":60943.62,"r":-13.5,"y":-1015.9},{"t":60943.66,"r":-12.1,"y":-1014.6},{"t":60943.70,"r":-10.8,"y":-1013.4},{"t":60943.74,"r":-15.3,"y":-1017.9},{"t":60943.78,"r":-9.9,"y":-1012.6},{"t":60943.84,"r":-8.6,"y":-1011.9},{"t":60943.90,"r":-7.2,"y":-1011.2},
{"t":60943.96,"r":-1.8,"y":-1006.1},{"t":60944.00,"r":-2.4,"y":-1007.0},{"t":60944.04,"r":-3.0,"y":-1008.1},{"t":60944.08,"r":-2.2,"y":-1007.7},{"t":60944.13,"r":-3.6,"y":-1009.5},{"t":60944.18,"r":-4.2,"y":-1010.3},{"t":60944.23,"r":-3.4,"y":-1009.7},{"t":60944.28,"r":-4.8,"y":-1011.3},{"t":60944.33,"r":-4.4,"y":-1011.1},
{"t":60944.32,"r":-5.6,"y":-1012.3},{"t":60944.38,"r":-6.8,"y":-1013.7},{"t":60944.44,"r":-8.0,"y":-1015.1},{"t":60944.50,"r":-9.2,"y":-1016.5},{"t":60944.56,"r":-10.4,"y":-1017.9},{"t":60944.62,"r":-11.8,"y":-1019.6},{"t":60944.68,"r":-9.8,"y":-1017.8},{"t":60944.74,"r":-8.6,"y":-1017.0},
{"t":60944.48,"r":-0.8,"y":-1008.0},{"t":60944.54,"r":0.4,"y":-1007.0},{"t":60944.60,"r":-1.4,"y":-1009.1},{"t":60944.66,"r":-0.2,"y":-1008.1},{"t":60944.72,"r":-1.9,"y":-1010.2},{"t":60944.78,"r":-1.0,"y":-1009.8},{"t":60944.84,"r":-2.3,"y":-1011.6},{"t":60944.90,"r":-1.6,"y":-1011.4},
{"t":60944.82,"r":-2.6,"y":-1011.8},{"t":60944.88,"r":-3.3,"y":-1012.9},{"t":60944.94,"r":-2.8,"y":-1012.9},{"t":60945.00,"r":-3.9,"y":-1014.4},{"t":60945.06,"r":-3.4,"y":-1014.5},{"t":60945.12,"r":-4.5,"y":-1016.3},{"t":60945.18,"r":-3.8,"y":-1016.2},{"t":60945.24,"r":-5.0,"y":-1017.9},{"t":60945.30,"r":-4.4,"y":-1017.7},{"t":60945.36,"r":-5.5,"y":-1018.7},{"t":60945.42,"r":-4.9,"y":-1017.3},{"t":60945.48,"r":-5.8,"y":-1017.6},
{"t":60945.32,"r":-6.4,"y":-1019.7},{"t":60945.38,"r":-7.4,"y":-1020.4},{"t":60945.44,"r":-8.3,"y":-1020.6},{"t":60945.50,"r":-9.5,"y":-1021.5},{"t":60945.55,"r":-10.2,"y":-1022.2},{"t":60945.60,"r":-11.0,"y":-1023.3},{"t":60945.65,"r":-9.8,"y":-1022.3},{"t":60945.70,"r":-12.4,"y":-1025.1},{"t":60945.74,"r":-13.9,"y":-1026.7},{"t":60945.78,"r":-14.3,"y":-1027.2},{"t":60945.75,"r":-1.5,"y":-1014.3},{"t":60945.82,"r":-10.6,"y":-1023.8},{"t":60945.87,"r":-9.2,"y":-1022.7},{"t":60945.92,"r":-11.8,"y":-1025.5},{"t":60945.96,"r":-7.8,"y":-1021.7}
],
"ppp": [
{"t":60914.02,"b":-868.8},{"t":60914.20,"b":-867.8},{"t":60914.41,"b":-867.7},{"t":60914.58,"b":-868.6},{"t":60914.75,"b":-870.3},{"t":60914.96,"b":-871.0},{"t":60915.22,"b":-872.2},{"t":60915.35,"b":-874.7},{"t":60915.51,"b":-876.5},{"t":60915.85,"b":-876.6},{"t":60916.02,"b":-879.1},{"t":60916.15,"b":-880.1},{"t":60916.45,"b":-880.6},{"t":60916.66,"b":-882.3},{"t":60916.91,"b":-885.0},{"t":60917.08,"b":-885.9},{"t":60917.29,"b":-885.6},{"t":60917.42,"b":-886.9},{"t":60917.67,"b":-888.9},{"t":60917.93,"b":-889.8},{"t":60918.18,"b":-891.1},{"t":60918.43,"b":-893.8},{"t":60918.69,"b":-895.2},{"t":60918.94,"b":-895.7},{"t":60919.24,"b":-897.4},{"t":60919.70,"b":-897.7},{"t":60919.87,"b":-899.1},{"t":60920.04,"b":-901.1},{"t":60920.38,"b":-902.6},{"t":60920.63,"b":-904.0},{"t":60920.76,"b":-905.5},{"t":60920.80,"b":-907.9},{"t":60920.82,"b":-905.8},{"t":60920.89,"b":-906.0},{"t":60921.14,"b":-906.9},{"t":60921.39,"b":-908.4},{"t":60921.56,"b":-908.9},{"t":60921.73,"b":-908.4},{"t":60921.99,"b":-910.4},{"t":60922.24,"b":-911.3},{"t":60922.58,"b":-911.8},{"t":60922.75,"b":-913.8},{"t":60923.00,"b":-916.2},{"t":60923.26,"b":-916.7},{"t":60923.51,"b":-917.7},{"t":60923.81,"b":-919.2},{"t":60924.02,"b":-918.2},{"t":60924.23,"b":-916.7},{"t":60924.44,"b":-917.2},{"t":60924.69,"b":-918.2},{"t":60924.95,"b":-919.2},{"t":60925.12,"b":-919.7},{"t":60925.37,"b":-921.6},{"t":60925.62,"b":-922.6},{"t":60925.88,"b":-923.6},{"t":60926.00,"b":-924.1},{"t":60926.13,"b":-924.5},{"t":60926.47,"b":-924.5},{"t":60926.64,"b":-926.0},{"t":60926.85,"b":-927.7},{"t":60927.06,"b":-928.3},{"t":60927.32,"b":-929.9},{"t":60927.57,"b":-930.1},{"t":60927.78,"b":-930.1},{"t":60927.91,"b":-930.6},{"t":60928.08,"b":-931.1},{"t":60928.33,"b":-931.6},{"t":60928.59,"b":-931.2},{"t":60928.76,"b":-931.2},{"t":60929.01,"b":-930.4},{"t":60929.18,"b":-930.9},{"t":60929.35,"b":-933.8},{"t":60929.60,"b":-935.5},{"t":60929.86,"b":-936.3},{"t":60929.94,"b":-936.1},{"t":60930.11,"b":-939.7},{"t":60930.36,"b":-940.7},{"t":60930.70,"b":-941.4},{"t":60930.87,"b":-942.1},{"t":60931.12,"b":-943.6},{"t":60931.38,"b":-946.5},{"t":60931.55,"b":-947.8},{"t":60931.72,"b":-947.5},{"t":60931.97,"b":-948.5},{"t":60932.14,"b":-950.0},{"t":60932.27,"b":-952.4},{"t":60932.48,"b":-953.1},{"t":60932.73,"b":-954.8},{"t":60932.99,"b":-956.6},{"t":60933.24,"b":-956.6},{"t":60933.49,"b":-957.8},{"t":60933.75,"b":-959.7},{"t":60934.00,"b":-961.5},{"t":60934.34,"b":-963.4},{"t":60934.59,"b":-965.6},{"t":60934.76,"b":-964.6},{"t":60934.97,"b":-963.4},{"t":60935.27,"b":-964.1},{"t":60935.61,"b":-964.1},{"t":60935.86,"b":-966.6},{"t":60936.03,"b":-967.6},{"t":60936.28,"b":-968.7},{"t":60936.54,"b":-970.0},{"t":60936.83,"b":-969.3},{"t":60937.05,"b":-970.0},{"t":60937.22,"b":-971.5},{"t":60937.47,"b":-971.3},{"t":60937.72,"b":-972.4},{"t":60937.98,"b":-973.9},{"t":60938.15,"b":-976.8},{"t":60938.31,"b":-978.3},{"t":60938.57,"b":-978.8},{"t":60938.91,"b":-979.5},{"t":60939.08,"b":-979.1},{"t":60939.25,"b":-980.3},{"t":60939.50,"b":-981.7},{"t":60939.84,"b":-982.2},{"t":60940.09,"b":-984.2},{"t":60940.35,"b":-985.2},{"t":60940.60,"b":-987.1},{"t":60940.85,"b":-986.6},{"t":60941.11,"b":-987.1},{"t":60941.36,"b":-989.6},{"t":60941.61,"b":-990.5},{"t":60941.78,"b":-991.8},{"t":60942.04,"b":-993.0},{"t":60942.38,"b":-994.1},{"t":60942.63,"b":-996.9},{"t":60942.97,"b":-997.9},{"t":60943.22,"b":-999.8},{"t":60943.56,"b":-1002.3},{"t":60943.90,"b":-1002.8},{"t":60944.03,"b":-1005.2},{"t":60944.32,"b":-1006.7},{"t":60944.66,"b":-1007.8},{"t":60944.91,"b":-1009.6},{"t":60945.08,"b":-1011.5},{"t":60945.34,"b":-1014.0},{"t":60945.55,"b":-1011.5},{"t":60945.76,"b":-1013.0},{"t":60945.89,"b":-1013.7}
],
"adev": [
{"lt":3.019,"v":-11.78,"lab":"52.2"},{"lt":3.320,"v":-12.08,"lab":"828.9"},{"lt":3.621,"v":-12.33,"lab":"477.2"},{"lt":3.922,"v":-12.56,"lab":"273.7"},{"lt":4.223,"v":-12.77,"lab":"170.4"},{"lt":4.524,"v":-12.90,"lab":"126.3"},{"lt":4.825,"v":-13.60,"lab":"25.3"},{"lt":5.126,"v":-13.85,"lab":"14.1"},{"lt":5.427,"v":-14.43,"lab":"3.7"},{"lt":5.728,"v":-15.08,"lab":"0.8"}
],
"tdev": [
{"lt":3.019,"v":-9.00,"lab":"10.0"},{"lt":3.320,"v":-9.00,"lab":"10.0"},{"lt":3.621,"v":-8.94,"lab":"11.5"},{"lt":3.922,"v":-8.88,"lab":"13.2"},{"lt":4.223,"v":-8.78,"lab":"16.4"},{"lt":4.524,"v":-8.61,"lab":"24.4"},{"lt":4.825,"v":-9.01,"lab":"9.8"},{"lt":5.126,"v":-8.97,"lab":"10.9"},{"lt":5.427,"v":-9.24,"lab":"5.7"},{"lt":5.728,"v":-9.59,"lab":"2.6"}
],
"refm": [
{"lt":3.255,"lab":"h/2"},{"lt":3.556,"lab":"h"},{"lt":4.033,"lab":"d/8"},{"lt":4.334,"lab":"d/4"},{"lt":4.635,"lab":"d/2"},{"lt":4.936,"lab":"day"},{"lt":5.414,"lab":"ddd"},{"lt":5.782,"lab":"wk"}
],
"one": [{"k": 1}]
},
"bounds": "flush",
"spacing": 107,
"vconcat": [
{
  "width": 1260, "height": 720,
  "resolve": {"axis": {"x": "independent", "y": "independent"}},
  "layer": [
    {"data": {"name": "mc"},
     "mark": {"type": "point", "shape": "M-1,-1L1,1M-1,1L1,-1", "filled": false, "stroke": "black", "strokeWidth": 1.2, "size": 50, "opacity": 1},
     "encoding": {
       "x": {"field": "t", "type": "quantitative", "scale": {"domain": [60914, 60946], "nice": false, "zero": false},
             "axis": {"orient": "bottom", "values": [60915,60920,60925,60930,60935,60940,60945], "format": "d", "tickSize": 13, "labelPadding": 8, "title": "Modified Julian Date", "titlePadding": 2}},
       "y": {"field": "y", "type": "quantitative", "scale": {"domain": [-1031.8, -820.7], "nice": false, "zero": false},
             "axis": {"orient": "left", "values": [-840,-870,-900,-930,-960,-990,-1020], "format": "d", "tickSize": 14, "labelPadding": 12, "title": "nanosecond", "titleFont": "DejaVu Sans", "titleFontSize": 25, "titlePadding": 7}}
     }},
    {"data": {"name": "ppp"},
     "mark": {"type": "line", "color": "#1e90ff", "strokeWidth": 4},
     "encoding": {
       "x": {"field": "t", "type": "quantitative", "scale": {"domain": [60914, 60946], "nice": false, "zero": false},
             "axis": {"orient": "bottom", "values": [60914,60915,60916,60917,60918,60919,60920,60921,60922,60923,60924,60925,60926,60927,60928,60929,60930,60931,60932,60933,60934,60935,60936,60937,60938,60939,60940,60941,60942,60943,60944,60945,60946], "tickSize": 6, "labels": false, "title": null}},
       "y": {"field": "b", "type": "quantitative", "scale": {"domain": [-1031.8, -820.7], "nice": false, "zero": false},
             "axis": {"orient": "right", "values": [-840,-870,-900,-930,-960,-990,-1020], "tickSize": 13, "tickWidth": 2.5, "labels": false, "title": null}}
     }},
    {"data": {"name": "one"},
     "mark": {"type": "text", "text": "_2509_SAS0PT13_SAS0PT13.M3AA5", "font": "DejaVu Sans", "fontWeight": "bold", "fontSize": 26, "align": "left", "baseline": "alphabetic", "color": "black"},
     "encoding": {
       "x": {"datum": 60914.94, "type": "quantitative", "scale": {"domain": [60914, 60946], "nice": false, "zero": false},
             "axis": {"orient": "top", "values": [60915,60920,60925,60930,60935,60940,60945], "tickSize": 13, "labels": false, "title": null}},
       "y": {"datum": -1021.3, "type": "quantitative", "scale": {"domain": [-1031.8, -820.7], "nice": false, "zero": false}, "axis": null}
     }},
    {"data": {"name": "one"},
     "mark": {"type": "text", "text": "GPS MC (x", "font": "DejaVu Sans", "fontWeight": "bold", "fontSize": 25, "align": "left", "baseline": "alphabetic", "color": "black"},
     "encoding": {
       "x": {"datum": 60929.44, "type": "quantitative", "scale": {"domain": [60914, 60946], "nice": false, "zero": false},
             "axis": {"orient": "top", "values": [60914,60915,60916,60917,60918,60919,60920,60921,60922,60923,60924,60925,60926,60927,60928,60929,60930,60931,60932,60933,60934,60935,60936,60937,60938,60939,60940,60941,60942,60943,60944,60945,60946], "tickSize": 6, "labels": false, "title": null}},
       "y": {"datum": -1021.3, "type": "quantitative", "scale": {"domain": [-1031.8, -820.7], "nice": false, "zero": false}, "axis": null}
     }},
    {"data": {"name": "one"},
     "mark": {"type": "text", "text": "black", "font": "DejaVu Sans", "fontWeight": "bold", "fontSize": 17, "align": "left", "baseline": "alphabetic", "dy": 6, "color": "black"},
     "encoding": {
       "x": {"datum": 60933.23, "type": "quantitative", "scale": {"domain": [60914, 60946], "nice": false, "zero": false}, "axis": null},
       "y": {"datum": -1021.3, "type": "quantitative", "scale": {"domain": [-1031.8, -820.7], "nice": false, "zero": false}, "axis": null}
     }},
    {"data": {"name": "one"},
     "mark": {"type": "text", "text": ") ,", "font": "DejaVu Sans", "fontWeight": "bold", "fontSize": 25, "align": "left", "baseline": "alphabetic", "color": "black"},
     "encoding": {
       "x": {"datum": 60934.55, "type": "quantitative", "scale": {"domain": [60914, 60946], "nice": false, "zero": false}, "axis": null},
       "y": {"datum": -1021.3, "type": "quantitative", "scale": {"domain": [-1031.8, -820.7], "nice": false, "zero": false}, "axis": null}
     }},
    {"data": {"name": "one"},
     "mark": {"type": "text", "text": "GPSPPP (o", "font": "DejaVu Sans", "fontWeight": "bold", "fontSize": 25, "align": "left", "baseline": "alphabetic", "color": "black"},
     "encoding": {
       "x": {"datum": 60935.84, "type": "quantitative", "scale": {"domain": [60914, 60946], "nice": false, "zero": false}, "axis": null},
       "y": {"datum": -1021.3, "type": "quantitative", "scale": {"domain": [-1031.8, -820.7], "nice": false, "zero": false}, "axis": null}
     }},
    {"data": {"name": "one"},
     "mark": {"type": "text", "text": "blue", "font": "DejaVu Sans", "fontWeight": "bold", "fontSize": 17, "align": "left", "baseline": "alphabetic", "dy": 6, "color": "black"},
     "encoding": {
       "x": {"datum": 60939.75, "type": "quantitative", "scale": {"domain": [60914, 60946], "nice": false, "zero": false}, "axis": null},
       "y": {"datum": -1021.3, "type": "quantitative", "scale": {"domain": [-1031.8, -820.7], "nice": false, "zero": false}, "axis": null}
     }},
    {"data": {"name": "one"},
     "mark": {"type": "text", "text": ")", "font": "DejaVu Sans", "fontWeight": "bold", "fontSize": 25, "align": "left", "baseline": "alphabetic", "color": "black"},
     "encoding": {
       "x": {"datum": 60940.92, "type": "quantitative", "scale": {"domain": [60914, 60946], "nice": false, "zero": false}, "axis": null},
       "y": {"datum": -1021.3, "type": "quantitative", "scale": {"domain": [-1031.8, -820.7], "nice": false, "zero": false}, "axis": null}
     }},
    {"data": {"name": "one"},
     "mark": {"type": "text", "text": "2806Ep", "font": "DejaVu Sans", "fontWeight": "bold", "fontSize": 25, "align": "left", "baseline": "alphabetic", "color": "black"},
     "encoding": {
       "x": {"datum": 60941.63, "type": "quantitative", "scale": {"domain": [60914, 60946], "nice": false, "zero": false}, "axis": null},
       "y": {"datum": -1021.3, "type": "quantitative", "scale": {"domain": [-1031.8, -820.7], "nice": false, "zero": false}, "axis": null}
     }}
  ]
},
{
  "width": 1260, "height": 450,
  "resolve": {"axis": {"x": "independent", "y": "independent"}},
  "layer": [
    {"data": {"name": "mc"},
     "mark": {"type": "point", "shape": "M-1,-1L1,1M-1,1L1,-1", "filled": false, "stroke": "black", "strokeWidth": 1, "size": 38, "opacity": 1},
     "encoding": {
       "x": {"field": "t", "type": "quantitative", "scale": {"domain": [60914, 60946], "nice": false, "zero": false},
             "axis": {"orient": "bottom", "values": [60915,60920,60925,60930,60935,60940,60945], "format": "d", "tickSize": 13, "labelPadding": 8, "title": "Modified Julian Date", "titlePadding": 2}},
       "y": {"field": "r", "type": "quantitative", "scale": {"domain": [-18.82, 7.53], "nice": false, "zero": false},
             "axis": {"orient": "left", "values": [7,3.5,0,-3.5,-7,-10.5,-14,-17.5], "format": ".1f", "tickSize": 14, "labelPadding": 12, "title": "residuals (ns)", "titleFont": "DejaVu Sans", "titleFontSize": 25, "titlePadding": 8}}
     }},
    {"data": {"name": "one"},
     "mark": {"type": "text", "text": "Max Smoothing Residual: -15.280__4.041_-5.704  Sigma= 3.124ns", "font": "DejaVu Sans", "fontWeight": "bold", "fontSize": 21, "align": "left", "baseline": "alphabetic", "color": "black"},
     "encoding": {
       "x": {"datum": 60915.02, "type": "quantitative", "scale": {"domain": [60914, 60946], "nice": false, "zero": false},
             "axis": {"orient": "bottom", "values": [60914,60915,60916,60917,60918,60919,60920,60921,60922,60923,60924,60925,60926,60927,60928,60929,60930,60931,60932,60933,60934,60935,60936,60937,60938,60939,60940,60941,60942,60943,60944,60945,60946], "tickSize": 6, "labels": false, "title": null}},
       "y": {"datum": -17.46, "type": "quantitative", "scale": {"domain": [-18.82, 7.53], "nice": false, "zero": false},
             "axis": {"orient": "right", "values": [7,3.5,0,-3.5,-7,-10.5,-14,-17.5], "tickSize": 13, "tickWidth": 2.5, "labels": false, "title": null}}
     }},
    {"data": {"name": "one"},
     "mark": {"type": "text", "text": ""},
     "encoding": {
       "x": {"datum": 60915, "type": "quantitative", "scale": {"domain": [60914, 60946], "nice": false, "zero": false},
             "axis": {"orient": "top", "values": [60915,60920,60925,60930,60935,60940,60945], "tickSize": 13, "labels": false, "title": null}},
       "y": {"datum": 0, "type": "quantitative", "scale": {"domain": [-18.82, 7.53], "nice": false, "zero": false}, "axis": null}
     }},
    {"data": {"name": "one"},
     "mark": {"type": "text", "text": ""},
     "encoding": {
       "x": {"datum": 60915, "type": "quantitative", "scale": {"domain": [60914, 60946], "nice": false, "zero": false},
             "axis": {"orient": "top", "values": [60914,60915,60916,60917,60918,60919,60920,60921,60922,60923,60924,60925,60926,60927,60928,60929,60930,60931,60932,60933,60934,60935,60936,60937,60938,60939,60940,60941,60942,60943,60944,60945,60946], "tickSize": 6, "labels": false, "title": null}},
       "y": {"datum": 0, "type": "quantitative", "scale": {"domain": [-18.82, 7.53], "nice": false, "zero": false}, "axis": null}
     }}
  ]
},
{
  "bounds": "flush",
  "spacing": 145,
  "hconcat": [
    {
      "width": 541, "height": 453,
      "resolve": {"axis": {"x": "independent", "y": "independent"}},
      "layer": [
        {"data": {"name": "adev"},
         "mark": {"type": "circle", "size": 95, "color": "black", "opacity": 1},
         "encoding": {
           "x": {"field": "lt", "type": "quantitative", "scale": {"domain": [3, 6], "nice": false, "zero": false},
                 "axis": {"orient": "bottom", "values": [3,4,5,6], "format": "d", "tickSize": 8, "labelPadding": 13, "title": "Averaging time, log(τ) (s)", "titlePadding": 3}},
           "y": {"field": "v", "type": "quantitative", "scale": {"domain": [-16.5, -10.5], "nice": false, "zero": false},
                 "axis": {"orient": "left", "values": [-11,-12,-13,-14,-15,-16], "format": "d", "tickSize": 12, "labelPadding": 13, "title": "Modified Allan Deviation (10⁻¹⁵)", "titleFont": "DejaVu Sans", "titleFontSize": 25, "titlePadding": 6}}
         }},
        {"data": {"name": "adev"},
         "transform": [{"filter": "datum.lab != '52.2'"}],
         "mark": {"type": "text", "font": "Liberation Sans", "fontWeight": "bold", "fontSize": 20, "color": "#ff0000", "align": "center", "baseline": "middle", "dy": -15},
         "encoding": {
           "text": {"field": "lab"},
           "x": {"field": "lt", "type": "quantitative", "scale": {"domain": [3, 6], "nice": false, "zero": false},
                 "axis": {"orient": "top", "values": [3,3.5,4,4.5,5,5.5,6], "tickSize": 13, "labels": false, "title": null}},
           "y": {"field": "v", "type": "quantitative", "scale": {"domain": [-16.5, -10.5], "nice": false, "zero": false},
                 "axis": {"orient": "right", "values": [-11,-11.5,-12,-12.5,-13,-13.5,-14,-14.5,-15,-15.5,-16], "tickSize": 12, "tickWidth": 2.5, "labels": false, "title": null}}
         }},
        {"data": {"name": "adev"},
         "transform": [{"filter": "datum.lab == '52.2'"}],
         "mark": {"type": "text", "font": "Liberation Sans", "fontWeight": "bold", "fontSize": 20, "color": "#ff0000", "align": "left", "baseline": "middle", "dy": -15},
         "encoding": {
           "text": {"field": "lab"},
           "x": {"datum": 3, "type": "quantitative", "scale": {"domain": [3, 6], "nice": false, "zero": false}, "axis": null},
           "y": {"field": "v", "type": "quantitative", "scale": {"domain": [-16.5, -10.5], "nice": false, "zero": false}, "axis": null}
         }},
        {"data": {"name": "refm"},
         "mark": {"type": "circle", "size": 40, "color": "black", "opacity": 1, "clip": true},
         "encoding": {
           "x": {"field": "lt", "type": "quantitative", "scale": {"domain": [3, 6], "nice": false, "zero": false}, "axis": null},
           "y": {"datum": -16.5, "type": "quantitative", "scale": {"domain": [-16.5, -10.5], "nice": false, "zero": false}, "axis": null}
         }},
        {"data": {"name": "refm"},
         "mark": {"type": "text", "font": "Liberation Sans", "fontWeight": "bold", "fontSize": 20, "color": "#ff0000", "align": "center", "baseline": "middle", "dy": -13},
         "encoding": {
           "text": {"field": "lab"},
           "x": {"field": "lt", "type": "quantitative", "scale": {"domain": [3, 6], "nice": false, "zero": false}, "axis": null},
           "y": {"datum": -16.5, "type": "quantitative", "scale": {"domain": [-16.5, -10.5], "nice": false, "zero": false}, "axis": null}
         }},
        {"data": {"name": "one"},
         "mark": {"type": "text", "text": "τ = 1044s", "font": "Liberation Sans", "fontWeight": "bold", "fontSize": 16, "color": "black", "align": "left", "baseline": "middle"},
         "encoding": {
           "x": {"datum": 3.25, "type": "quantitative", "scale": {"domain": [3, 6], "nice": false, "zero": false}, "axis": null},
           "y": {"datum": -10.83, "type": "quantitative", "scale": {"domain": [-16.5, -10.5], "nice": false, "zero": false}, "axis": null}
         }}
      ]
    },
    {
      "width": 542, "height": 453,
      "resolve": {"axis": {"x": "independent", "y": "independent"}},
      "layer": [
        {"data": {"name": "tdev"},
         "mark": {"type": "circle", "size": 95, "color": "black", "opacity": 1},
         "encoding": {
           "x": {"field": "lt", "type": "quantitative", "scale": {"domain": [2.75, 6], "nice": false, "zero": false},
                 "axis": {"orient": "bottom", "values": [3,4,5,6], "format": "d", "tickSize": 8, "labelPadding": 13, "title": "Averaging time, log(τ) (s)", "titlePadding": 3}},
           "y": {"field": "v", "type": "quantitative", "scale": {"domain": [-10, -7.5], "nice": false, "zero": false},
                 "axis": {"orient": "left", "values": [-8,-9,-10], "format": "d", "tickSize": 13, "labelPadding": 8, "title": "Time deviation (10⁻¹⁰ s)", "titleFont": "DejaVu Sans", "titleFontSize": 25, "titlePadding": 12}}
         }},
        {"data": {"name": "tdev"},
         "mark": {"type": "text", "font": "Liberation Sans", "fontWeight": "bold", "fontSize": 16, "color": "#ff0000", "align": "center", "baseline": "middle", "dy": -23},
         "encoding": {
           "text": {"field": "lab"},
           "x": {"field": "lt", "type": "quantitative", "scale": {"domain": [2.75, 6], "nice": false, "zero": false},
                 "axis": {"orient": "top", "values": [3,3.5,4,4.5,5,5.5,6], "tickSize": 13, "labels": false, "title": null}},
           "y": {"field": "v", "type": "quantitative", "scale": {"domain": [-10, -7.5], "nice": false, "zero": false},
                 "axis": {"orient": "right", "values": [-8,-8.5,-9,-9.5,-10], "tickSize": 12, "tickWidth": 2.5, "labels": false, "title": null}}
         }},
        {"data": {"name": "refm"},
         "mark": {"type": "circle", "size": 80, "color": "black", "opacity": 1},
         "encoding": {
           "x": {"field": "lt", "type": "quantitative", "scale": {"domain": [2.75, 6], "nice": false, "zero": false}, "axis": null},
           "y": {"datum": -10, "type": "quantitative", "scale": {"domain": [-10, -7.5], "nice": false, "zero": false}, "axis": null}
         }},
        {"data": {"name": "refm"},
         "mark": {"type": "text", "font": "Liberation Sans", "fontWeight": "bold", "fontSize": 19, "color": "#ff0000", "align": "center", "baseline": "middle", "dy": -24},
         "encoding": {
           "text": {"field": "lab"},
           "x": {"field": "lt", "type": "quantitative", "scale": {"domain": [2.75, 6], "nice": false, "zero": false}, "axis": null},
           "y": {"datum": -10, "type": "quantitative", "scale": {"domain": [-10, -7.5], "nice": false, "zero": false}, "axis": null}
         }}
      ]
    }
  ]
}
]
}
